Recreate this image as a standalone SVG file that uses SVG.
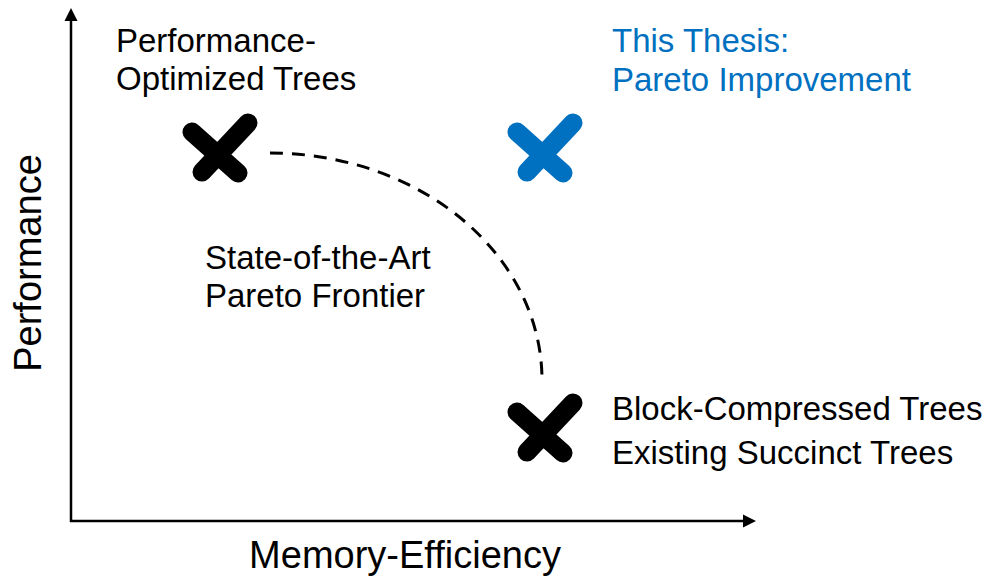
<svg xmlns="http://www.w3.org/2000/svg" xmlns:xlink="http://www.w3.org/1999/xlink" width="989" height="579" viewBox="0 0 989 579">
  <style>
    .label { font-family: "Liberation Sans", Arial, sans-serif; font-size: 33px; fill: #000; }
    .axis-label { font-family: "Liberation Sans", Arial, sans-serif; font-size: 38px; fill: #000; }
    .blue { fill: #0070c0; }
    .axis { stroke: #000; stroke-width: 2.5; fill: none; }
    .frontier { stroke: #000; stroke-width: 3; fill: none; stroke-dasharray: 13 9; }
  </style>
  <defs>
    <!-- cross marker, local origin at the top-left of its bounding box -->
    <path id="cross" d="M12,22 L58,63 M68,13 L22,62" stroke-width="19" stroke-linecap="round" fill="none"/>
  </defs>

  <rect width="989" height="579" fill="#fff"/>

  <!-- axes -->
  <g id="axes">
    <line class="axis" x1="71" y1="522" x2="71" y2="20"/>
    <polygon points="71,8 64.5,21 77.5,21" fill="#000"/>
    <line class="axis" x1="70" y1="521" x2="743" y2="521"/>
    <polygon points="756,521 743,514.5 743,527.5" fill="#000"/>
    <text class="axis-label" x="405" y="568" text-anchor="middle">Memory-Efficiency</text>
    <text class="axis-label" transform="translate(41,263) rotate(-90)" text-anchor="middle">Performance</text>
  </g>

  <!-- connectors -->
  <g id="connectors">
    <path id="pareto-frontier" class="frontier" d="M270,153 A272,227 0 0 1 542,380"/>
  </g>

  <g id="node-performance-optimized">
    <use xlink:href="#cross" x="180" y="110" stroke="#000"/>
    <text class="label" x="116" y="52">Performance-</text>
    <text class="label" x="116" y="90">Optimized Trees</text>
  </g>

  <g id="node-this-thesis">
    <use xlink:href="#cross" x="505" y="110" stroke="#0070c0"/>
    <text class="label blue" x="612" y="52">This Thesis:</text>
    <text class="label blue" x="612" y="91">Pareto Improvement</text>
  </g>

  <g id="node-succinct">
    <use xlink:href="#cross" x="505" y="390" stroke="#000"/>
    <text class="label" x="612" y="420">Block-Compressed Trees</text>
    <text class="label" x="612" y="464">Existing Succinct Trees</text>
  </g>

  <g id="node-frontier-label">
    <text class="label" x="205" y="269">State-of-the-Art</text>
    <text class="label" x="205" y="307">Pareto Frontier</text>
  </g>
</svg>
